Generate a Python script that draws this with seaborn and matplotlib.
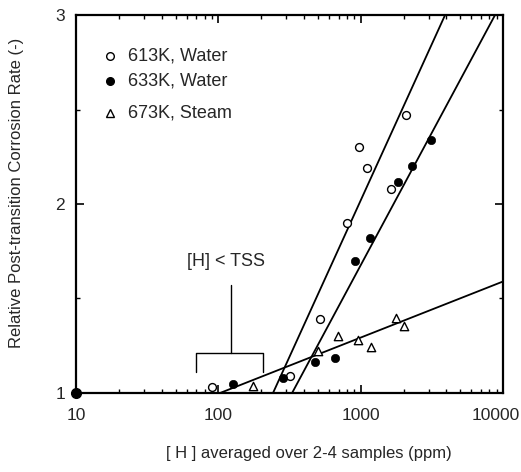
import numpy as np
import pandas as pd
import matplotlib
matplotlib.use("Agg")
import matplotlib.pyplot as plt
from matplotlib.ticker import LogLocator, MultipleLocator, FixedLocator, NullFormatter
import matplotlib.transforms as mtransforms
import seaborn as sns

# ---- data ----
h_613 = [90, 319, 518, 798, 973, 1114, 1626, 2084]
r_613 = [1.033, 1.09, 1.39, 1.90, 2.30, 2.19, 2.08, 2.47]

h_633 = [126, 284, 478, 661, 912, 1164, 1820, 2307, 3118]
r_633 = [1.046, 1.08, 1.166, 1.187, 1.70, 1.82, 2.115, 2.20, 2.34]

h_673 = [174, 504, 697, 962, 1183, 1770, 2027]
r_673 = [1.037, 1.224, 1.303, 1.28, 1.245, 1.395, 1.356]

series_labels = ["613K, Water", "633K, Water", "673K, Steam"]

# fitted lines: (log10 H at rate=1, log10 H at rate=r2, r2)
fit_613 = (2.384, 3.593, 3.0)
fit_633 = (2.518, 3.944, 3.0)
fit_673 = (2.012, 4.0, 1.59)

# TSS bracket (H range, stem position)
tss_range = [70, 205]
tss_center = 123
tss_label = "[H] < TSS"

x_ticks = [10, 100, 1000, 10000]
y_ticks = [1, 2, 3]

sns.set_theme(style="white")
plt.rcParams["font.family"] = ["Liberation Sans", "DejaVu Sans"]

fig = plt.figure(figsize=(5.21, 4.72), dpi=100)
ax = fig.add_axes([0.1459, 0.1674, 0.8196, 0.8008])

df = pd.concat([
    pd.DataFrame({"H": h_613, "R": r_613, "s": series_labels[0]}),
    pd.DataFrame({"H": h_633, "R": r_633, "s": series_labels[1]}),
    pd.DataFrame({"H": h_673, "R": r_673, "s": series_labels[2]}),
])

# fit lines
for (lx0, lx1, r2) in [fit_613, fit_633, fit_673]:
    lx = np.array([lx0, lx1])
    ld = pd.DataFrame({"H": 10 ** lx, "R": [1.0, r2]})
    sns.lineplot(data=ld, x="H", y="R", ax=ax, color="black", lw=1.3, sort=False)

sns.scatterplot(data=df[df.s == series_labels[0]], x="H", y="R", ax=ax, marker="o",
                facecolor="white", edgecolor="black", linewidth=1.0, s=32, zorder=5)
sns.scatterplot(data=df[df.s == series_labels[1]], x="H", y="R", ax=ax, marker="o",
                color="black", edgecolor="black", s=36, zorder=5)
sns.scatterplot(data=df[df.s == series_labels[2]], x="H", y="R", ax=ax, marker="^",
                facecolor="white", edgecolor="black", linewidth=1.0, s=36, zorder=5)

ax.set_xscale("log")
ax.set_xlim(x_ticks[0], x_ticks[-1])
ax.set_ylim(y_ticks[0], y_ticks[-1])

# bracket annotation
yb, yt, ytext, ydrop = 1.212, 1.571, 1.695, 1.111
ax.plot([tss_range[0], tss_range[0], tss_range[1], tss_range[1]], [ydrop, yb, yb, ydrop],
        color="black", lw=1.0)
ax.plot([tss_center, tss_center], [yb, yt], color="black", lw=1.0)
ax.text(114, ytext, tss_label, ha="center", va="center", fontsize=13)

# legend (manual, matching reference look)
leg_items = [("o", "white"), ("o", "black"), ("^", "white")]
leg_y = [0.8915, 0.8254, 0.7407]
for (m, fc), lab, yy in zip(leg_items, series_labels, leg_y):
    ax.plot([0.0796], [yy], marker=m, ms=5.5, mfc=fc, mec="black", mew=1.0,
            transform=ax.transAxes, ls="none")
    ax.text(0.1218, yy, lab, transform=ax.transAxes, va="center", ha="left", fontsize=13)

# axes styling
for sp in ax.spines.values():
    sp.set_visible(True)
    sp.set_color("black")
    sp.set_linewidth(1.6)

ax.xaxis.set_major_locator(FixedLocator(x_ticks))
ax.xaxis.set_minor_locator(LogLocator(base=10, subs=np.arange(2, 10)))
ax.xaxis.set_minor_formatter(NullFormatter())
ax.set_xticklabels([str(t) for t in x_ticks])
ax.yaxis.set_major_locator(FixedLocator(y_ticks))
ax.yaxis.set_minor_locator(MultipleLocator(0.5))
ax.set_yticklabels([str(t) for t in y_ticks])

ax.tick_params(which="both", direction="in", top=True, right=True, bottom=True, left=True,
               color="black")
ax.tick_params(axis="x", which="major", length=6, width=1.2, labelsize=12.5, pad=11)
ax.tick_params(axis="y", which="major", length=6, width=1.2, labelsize=12.5, pad=8)
ax.tick_params(which="minor", length=3, width=1.0)

# shift the last x tick label left so it stays inside the figure
last = ax.get_xticklabels()[-1]
last.set_transform(last.get_transform() + mtransforms.ScaledTranslation(-7 / 100, 0, fig.dpi_scale_trans))

ax.set_xlabel("[ H ] averaged over 2-4 samples (ppm)", fontsize=12)
ax.xaxis.set_label_coords(0.545, -0.14)
ax.set_ylabel("Relative Post-transition Corrosion Rate (-)", fontsize=12)
ax.yaxis.set_label_coords(-0.122, 0.53)

# corner dot at axis origin
ax.plot([x_ticks[0]], [y_ticks[0]], marker="o", ms=7, color="black", clip_on=False, zorder=10)

ax.grid(False)
fig.savefig("out.png", dpi=100)
